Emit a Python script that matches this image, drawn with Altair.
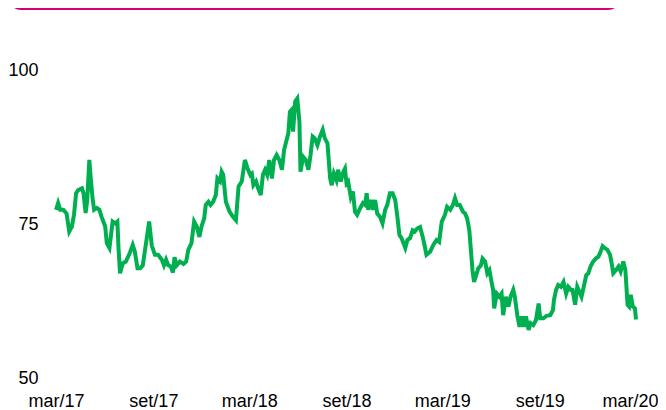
import json
import altair as alt
import pandas as pd

# day offsets from 2017-03-01 and index values
days = [0, 4, 8, 14, 20, 25, 30, 34, 38, 42, 49, 52, 56, 59, 63, 66, 69, 72, 77, 82,
        86, 93, 96, 101, 107, 112, 116, 118, 121, 126, 132, 139, 145, 149, 154, 159, 164, 171, 176, 181,
        187, 193, 200, 204, 208, 212, 217, 221, 224, 228, 234, 241, 246, 250, 256, 261, 266, 271, 275, 280,
        283, 288, 292, 297, 302, 305, 310, 313, 316, 321, 328, 334, 340, 345, 351, 357, 362, 367, 370, 373,
        378, 382, 387, 391, 395, 399, 403, 408, 412, 417, 422, 427, 431, 435, 439, 442, 445, 448, 452, 456,
        460, 462, 467, 472, 477, 481, 485, 489, 494, 499, 504, 508, 513, 518, 521, 525, 530, 533, 538, 543,
        546, 549, 552, 557, 561, 565, 569, 575, 580, 584, 587, 590, 595, 599, 603, 607, 612, 617, 622, 626,
        631, 636, 641, 645, 649, 653, 660, 664, 669, 674, 678, 683, 688, 693, 697, 700, 707, 713, 719, 724,
        729, 735, 739, 745, 750, 754, 758, 763, 769, 773, 777, 781, 784, 787, 790, 794, 798, 803, 806, 811,
        815, 819, 823, 826, 828, 833, 838, 842, 845, 850, 855, 859, 864, 867, 872, 876, 880, 884, 888, 893,
        897, 902, 907, 912, 915, 921, 927, 934, 939, 941, 945, 949, 954, 959, 964, 968, 973, 976, 981, 985,
        989, 993, 998, 1002, 1006, 1010, 1015, 1020, 1025, 1029, 1033, 1037, 1042, 1047, 1050, 1053, 1058, 1063, 1067, 1072,
        1076, 1080, 1083, 1086, 1090, 1094, 1096]
values = [77.3, 78.4, 77.3, 77.3, 76.7, 73.8, 74.6, 76.5, 80.0, 80.5, 80.8, 80.0, 76.8, 78.9, 85.4, 82.1, 79.2, 77.3, 77.6, 77.3,
          76.2, 74.6, 71.9, 71.1, 75.4, 75.1, 75.4, 71.3, 67.0, 68.6, 68.9, 70.2, 71.6, 70.5, 67.8, 67.8, 68.3, 72.4, 75.4, 71.5,
          70.0, 70.0, 69.2, 68.3, 69.2, 68.3, 68.1, 67.1, 69.6, 68.3, 68.9, 68.5, 68.9, 70.8, 71.9, 75.4, 74.6, 72.9, 74.6, 75.9,
          78.1, 78.6, 78.1, 78.6, 79.7, 82.4, 81.9, 83.5, 83.0, 78.6, 77.0, 76.2, 75.6, 81.1, 81.9, 85.4, 84.0, 83.0, 83.2, 81.3,
          81.9, 80.8, 79.7, 83.0, 83.8, 83.0, 85.4, 82.4, 85.4, 86.2, 85.4, 83.8, 87.0, 88.4, 89.7, 93.2, 93.5, 90.0, 94.9, 95.4,
          91.6, 83.5, 85.9, 85.4, 83.8, 86.2, 89.2, 88.9, 87.8, 89.2, 90.3, 88.9, 88.1, 82.4, 81.3, 83.2, 82.1, 83.8, 81.9, 83.5,
          84.0, 81.6, 81.9, 79.4, 80.3, 77.0, 76.5, 77.6, 78.4, 78.1, 80.0, 77.3, 78.9, 77.3, 78.9, 76.7, 76.2, 75.1, 77.3, 78.1,
          80.0, 80.0, 78.9, 76.2, 73.2, 72.7, 71.1, 72.4, 72.7, 74.0, 73.8, 74.3, 74.5, 72.9, 71.3, 70.0, 70.5, 71.6, 72.4, 72.1,
          75.4, 76.5, 77.8, 77.3, 78.1, 79.2, 78.1, 78.1, 77.0, 76.7, 75.9, 74.0, 70.8, 67.5, 65.6, 66.7, 67.8, 68.3, 69.4, 68.9,
          67.0, 67.5, 65.6, 64.3, 61.3, 63.7, 63.2, 63.7, 60.2, 63.2, 61.6, 63.2, 64.3, 63.2, 60.0, 58.3, 60.0, 58.3, 60.0, 57.8,
          58.9, 58.6, 59.4, 62.1, 59.7, 59.7, 60.1, 60.2, 61.0, 62.7, 64.3, 65.1, 64.8, 65.6, 63.7, 64.8, 64.3, 64.3, 61.9, 64.8,
          64.0, 63.2, 65.1, 66.7, 67.0, 68.1, 68.9, 69.4, 69.7, 70.5, 71.4, 71.1, 70.8, 70.0, 68.6, 67.0, 67.5, 68.1, 67.3, 68.9,
          67.5, 61.9, 61.6, 63.5, 61.6, 61.3, 59.5]

tick_labels = ["mar/17", "set/17", "mar/18", "set/18", "mar/19", "set/19", "mar/20"]
tick_months = [(2017, 3), (2017, 9), (2018, 3), (2018, 9), (2019, 3), (2019, 9), (2020, 3)]
y_ticks = [50, 75, 100]

start = pd.Timestamp("2017-03-01")
df = pd.DataFrame({"date": start + pd.to_timedelta(days, unit="D"), "value": values})

x_values = [alt.DateTime(year=y, month=m, date=1) for y, m in tick_months]
label_expr = (json.dumps(tick_labels)
              + "[round(((year(datum.value) - 2017) * 12 + month(datum.value) - 2) / 6)]")

FONT = "Liberation Sans"

line = alt.Chart(df).mark_line(color="#00B050", strokeWidth=4, clip=False).encode(
    x=alt.X("date:T",
            scale=alt.Scale(domain=[x_values[0], x_values[-1]]),
            axis=alt.Axis(values=x_values, labelExpr=label_expr, title=None, domain=False,
                          ticks=False, tickSize=0, grid=False, labelFont=FONT, labelFontSize=18,
                          labelColor="#000000", labelPadding=14, labelFlush=False,
                          labelOverlap=False,
                          labelOffset={"condition": {"test": "year(datum.value) == 2020",
                                                     "value": -6},
                                       "value": 0})),
    y=alt.Y("value:Q",
            scale=alt.Scale(domain=[50, 100], nice=False, zero=False),
            axis=alt.Axis(values=y_ticks, title=None, domain=False, ticks=False, tickSize=0,
                          grid=False, labelFont=FONT, labelFontSize=18, labelColor="#000000",
                          labelPadding=18, labelBaseline="middle")),
)

frame = alt.Chart(pd.DataFrame({"k": [0]})).mark_rect(
    filled=False, stroke="#D6006F", strokeWidth=2, cornerRadius=12, clip=False
).encode(
    x=alt.value(-47), x2=alt.value(564), y=alt.value(-100), y2=alt.value(-61)
)

chart = alt.layer(frame, line).properties(
    width=580, height=308, autosize="none",
    padding={"left": 48, "top": 62, "right": 22, "bottom": 32},
).configure_view(stroke=None)

chart.save("out.html", embed_options={"renderer": "svg", "actions": False})
